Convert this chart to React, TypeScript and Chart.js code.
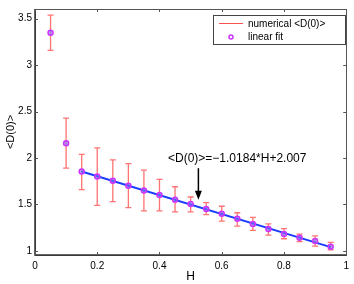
import React, { useEffect, useRef } from "react";
import { Chart, registerables } from "chart.js";

Chart.register(...registerables);

const H = [0.05, 0.1, 0.15, 0.2, 0.25, 0.3, 0.35, 0.4, 0.45, 0.5, 0.55, 0.6, 0.65, 0.7, 0.75, 0.8, 0.85, 0.9, 0.95];
const D = [3.35, 2.16, 1.855, 1.80, 1.755, 1.70, 1.65, 1.60, 1.55, 1.505, 1.45, 1.40, 1.345, 1.29, 1.235, 1.18, 1.14, 1.105, 1.045];
const ERR_HI = [3.54, 2.43, 2.04, 2.11, 1.98, 1.94, 1.87, 1.77, 1.69, 1.58, 1.52, 1.48, 1.41, 1.36, 1.29, 1.24, 1.18, 1.16, 1.09];
const ERR_LO = [3.16, 1.89, 1.66, 1.49, 1.53, 1.465, 1.43, 1.43, 1.42, 1.42, 1.39, 1.32, 1.265, 1.22, 1.17, 1.13, 1.10, 1.05, 1.01];
const FIT_SLOPE = -1.0184;
const FIT_INTERCEPT = 2.007;
const FIT_H = [0.15, 0.95];
const X_TICKS = [0, 0.2, 0.4, 0.6, 0.8, 1];
const Y_TICKS = [1, 1.5, 2, 2.5, 3, 3.5];
const LEGEND_LABELS = ["numerical <D(0)>", "linear fit"];
const ANNOTATION = "<D(0)>=\u22121.0184*H+2.007";
const ARROW_AT = { h: 0.525, from: 1.89, to: 1.55 };

const FONT = "Liberation Sans, Arial, sans-serif";

const framePlugin = {
  id: "frame",
  beforeDatasetsDraw(chart: any) {
    const ctx = chart.ctx;
    const xs = chart.scales.x;
    const ys = chart.scales.y;
    ctx.save();
    ctx.strokeStyle = "rgba(255,100,100,0.9)";
    ctx.lineWidth = 1.3;
    for (let i = 0; i < H.length; i++) {
      const x = xs.getPixelForValue(H[i]);
      const y1 = ys.getPixelForValue(ERR_HI[i]);
      const y2 = ys.getPixelForValue(ERR_LO[i]);
      ctx.beginPath();
      ctx.moveTo(x, y1);
      ctx.lineTo(x, y2);
      ctx.moveTo(x - 3, y1);
      ctx.lineTo(x + 3, y1);
      ctx.moveTo(x - 3, y2);
      ctx.lineTo(x + 3, y2);
      ctx.stroke();
    }
    ctx.restore();
  },
  afterDraw(chart: any) {
    const ctx = chart.ctx;
    const a = chart.chartArea;
    const xs = chart.scales.x;
    const ys = chart.scales.y;
    ctx.save();
    ctx.strokeStyle = "#555";
    ctx.lineWidth = 1;
    ctx.strokeRect(Math.round(a.left) + 0.5, Math.round(a.top) + 0.5, Math.round(a.right - a.left), Math.round(a.bottom - a.top));
    ctx.strokeStyle = "#333";
    ctx.lineWidth = 1.5;
    ctx.beginPath();
    ctx.moveTo(a.left, a.top);
    ctx.lineTo(a.left, a.bottom);
    ctx.lineTo(a.right, a.bottom);
    ctx.stroke();
    ctx.strokeStyle = "#555";
    ctx.lineWidth = 1;
    ctx.beginPath();
    for (const t of X_TICKS) {
      const x = Math.round(xs.getPixelForValue(t)) + 0.5;
      ctx.moveTo(x, a.bottom);
      ctx.lineTo(x, a.bottom - 3);
      ctx.moveTo(x, a.top);
      ctx.lineTo(x, a.top + 3);
    }
    for (const t of Y_TICKS) {
      const y = Math.round(ys.getPixelForValue(t)) + 0.5;
      ctx.moveTo(a.left, y);
      ctx.lineTo(a.left + 3, y);
      ctx.moveTo(a.right, y);
      ctx.lineTo(a.right - 3, y);
    }
    ctx.stroke();

    // legend
    const lx = 213, ly = 15, lw = 132, lh = 29;
    ctx.fillStyle = "#fff";
    ctx.fillRect(lx, ly, lw, lh);
    ctx.strokeStyle = "#444";
    ctx.lineWidth = 1;
    ctx.strokeRect(lx + 0.5, ly + 0.5, lw, lh);
    ctx.strokeStyle = "#ff5050";
    ctx.beginPath();
    ctx.moveTo(lx + 6, ly + 8.5);
    ctx.lineTo(lx + 30, ly + 8.5);
    ctx.stroke();
    ctx.strokeStyle = "#cc33ff";
    ctx.lineWidth = 1.5;
    ctx.beginPath();
    ctx.arc(lx + 18, ly + 22, 2, 0, Math.PI * 2);
    ctx.stroke();
    ctx.fillStyle = "#000";
    ctx.font = "10px " + FONT;
    ctx.textBaseline = "middle";
    ctx.textAlign = "left";
    ctx.fillText(LEGEND_LABELS[0], lx + 35, ly + 9);
    ctx.fillText(LEGEND_LABELS[1], lx + 35, ly + 22);

    // annotation
    ctx.font = "12px " + FONT;
    ctx.textAlign = "left";
    ctx.fillText(ANNOTATION, 168, 159);
    const ax = xs.getPixelForValue(ARROW_AT.h);
    const ay1 = ys.getPixelForValue(ARROW_AT.from);
    const ay2 = ys.getPixelForValue(ARROW_AT.to);
    ctx.strokeStyle = "#000";
    ctx.lineWidth = 1.5;
    ctx.beginPath();
    ctx.moveTo(ax, ay1);
    ctx.lineTo(ax, ay2 - 6);
    ctx.stroke();
    ctx.fillStyle = "#000";
    ctx.beginPath();
    ctx.moveTo(ax - 3.5, ay2 - 9);
    ctx.lineTo(ax + 3.5, ay2 - 9);
    ctx.lineTo(ax, ay2);
    ctx.closePath();
    ctx.fill();
    ctx.restore();
  },
};

export default function App() {
  const ref = useRef<HTMLCanvasElement>(null);
  useEffect(() => {
    document.body.style.margin = "0";
    const fit = FIT_H.map((h) => ({ x: h, y: FIT_SLOPE * h + FIT_INTERCEPT }));
    const pts = H.map((h, i) => ({ x: h, y: D[i] }));
    const chart = new Chart(ref.current!, {
      type: "scatter",
      data: {
        datasets: [
          {
            label: LEGEND_LABELS[1],
            data: pts,
            showLine: false,
            pointRadius: 2.5,
            pointBorderWidth: 1.5,
            pointBorderColor: "#cc33ff",
            pointBackgroundColor: "rgba(120,120,255,0.6)",
            order: 0,
          },
          {
            label: "fit",
            data: fit,
            showLine: true,
            borderColor: "#1a3cff",
            borderWidth: 2,
            pointRadius: 0,
            order: 1,
          },
        ],
      },
      options: {
        responsive: false,
        animation: false,
        layout: { padding: { top: 8, right: 6, left: 4, bottom: 0 } },
        plugins: { legend: { display: false }, tooltip: { enabled: false } },
        scales: {
          x: {
            type: "linear",
            min: 0,
            max: 1,
            grid: { display: false, drawTicks: false },
            border: { display: false },
            afterBuildTicks: (s: any) => {
              s.ticks = X_TICKS.map((v) => ({ value: v }));
            },
            afterFit: (s: any) => {
              s.height = 29;
            },
            ticks: {
              color: "#000",
              font: { family: FONT, size: 10 },
              padding: 5,
              maxRotation: 0,
              callback: (v: any) => String(v),
            },
            title: {
              display: true,
              text: "H",
              color: "#000",
              font: { family: FONT, size: 12 },
              padding: { top: 0, bottom: 0 },
            },
          },
          y: {
            type: "linear",
            min: 0.955,
            max: 3.605,
            grid: { display: false, drawTicks: false },
            border: { display: false },
            afterBuildTicks: (s: any) => {
              s.ticks = Y_TICKS.map((v) => ({ value: v }));
            },
            afterFit: (s: any) => {
              s.width = 31;
            },
            ticks: {
              color: "#000",
              font: { family: FONT, size: 10 },
              padding: 3,
              callback: (v: any) => String(v),
            },
            title: {
              display: true,
              text: "<D(0)>",
              color: "#000",
              font: { family: FONT, size: 11 },
              padding: { top: 0, bottom: 0 },
            },
          },
        },
      },
      plugins: [framePlugin],
    });
    return () => chart.destroy();
  }, []);
  return <canvas ref={ref} width={354} height={284} style={{ display: "block" }} />;
}
